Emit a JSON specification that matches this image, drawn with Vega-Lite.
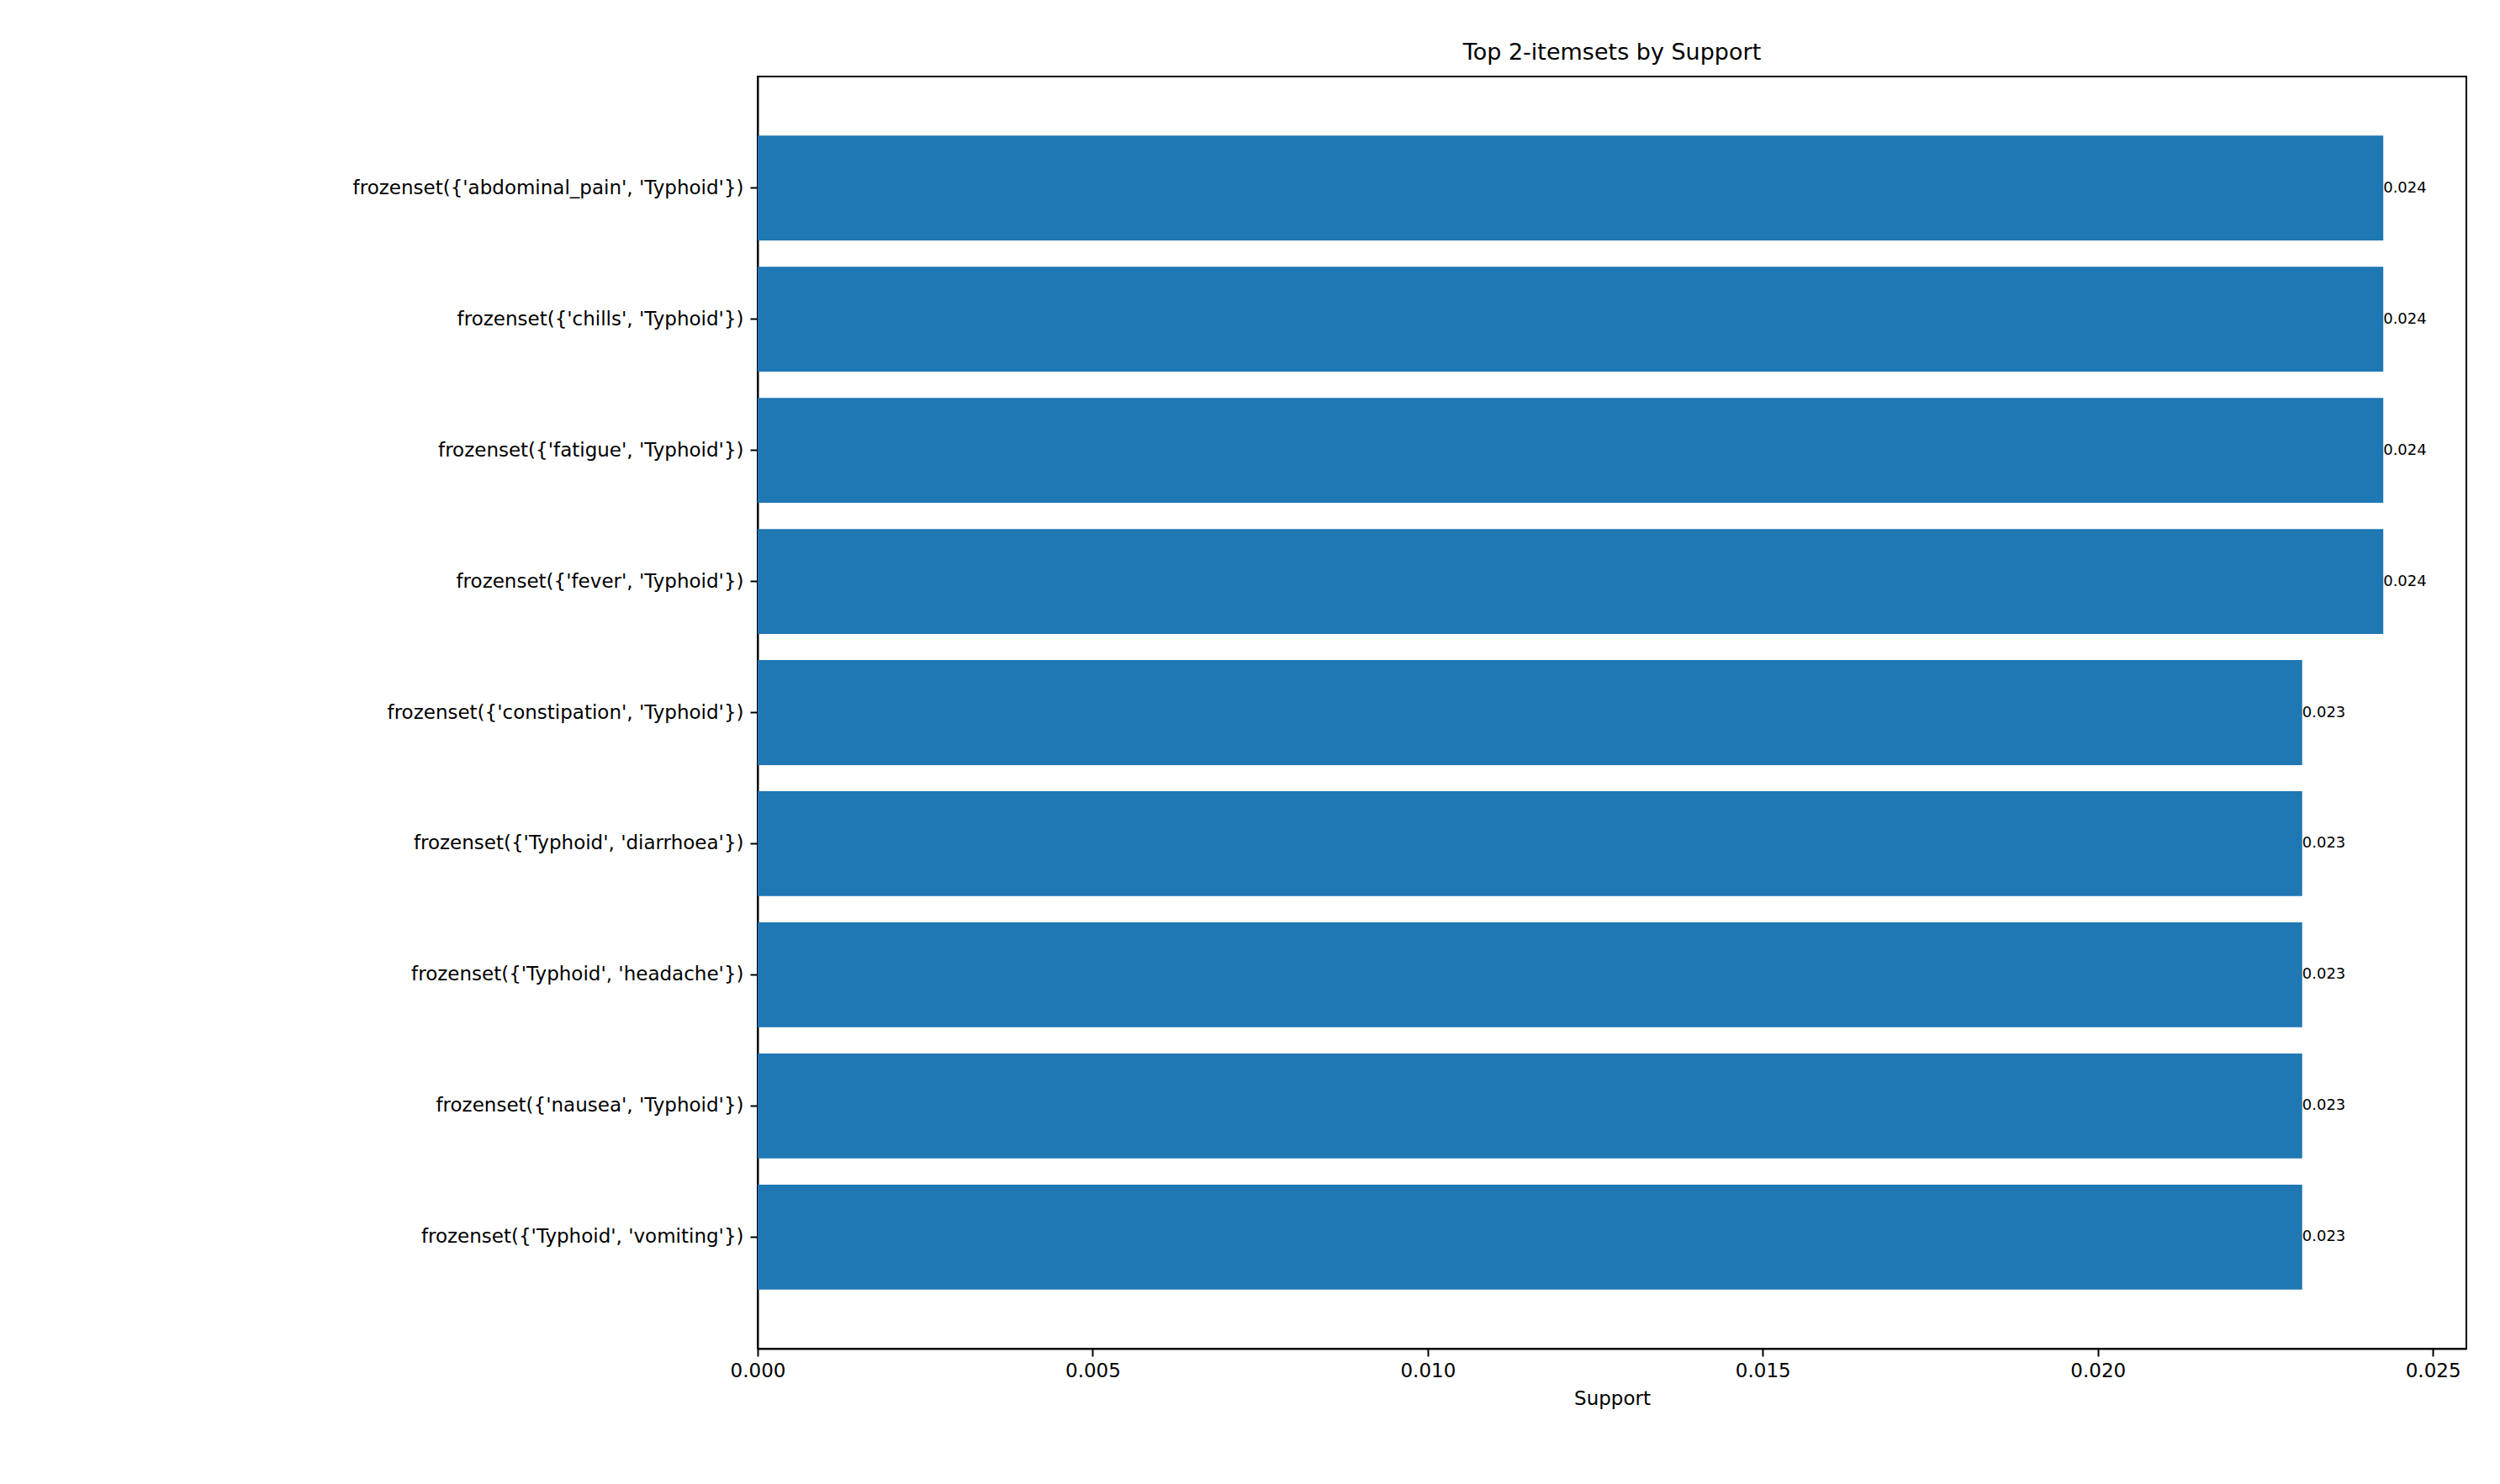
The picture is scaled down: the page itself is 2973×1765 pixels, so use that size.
{
  "$schema": "https://vega.github.io/schema/vega-lite/v6.json",
  "width": 2032,
  "height": 1513,
  "autosize": "none",
  "padding": {"left": 901, "top": 91, "right": 40, "bottom": 161},
  "background": "white",
  "config": {
    "font": "DejaVu Sans",
    "view": {"stroke": "black", "strokeWidth": 2}
  },
  "title": {"text": "Top 2-itemsets by Support", "fontSize": 27, "fontWeight": "normal", "offset": 14, "color": "black"},
  "data": {
    "values": [
      {"itemset": "frozenset({'abdominal_pain', 'Typhoid'})", "support": 0.02426, "rank": 1},
      {"itemset": "frozenset({'chills', 'Typhoid'})", "support": 0.02426, "rank": 2},
      {"itemset": "frozenset({'fatigue', 'Typhoid'})", "support": 0.02426, "rank": 3},
      {"itemset": "frozenset({'fever', 'Typhoid'})", "support": 0.02426, "rank": 4},
      {"itemset": "frozenset({'constipation', 'Typhoid'})", "support": 0.02305, "rank": 5},
      {"itemset": "frozenset({'Typhoid', 'diarrhoea'})", "support": 0.02305, "rank": 6},
      {"itemset": "frozenset({'Typhoid', 'headache'})", "support": 0.02305, "rank": 7},
      {"itemset": "frozenset({'nausea', 'Typhoid'})", "support": 0.02305, "rank": 8},
      {"itemset": "frozenset({'Typhoid', 'vomiting'})", "support": 0.02305, "rank": 9}
    ]
  },
  "encoding": {
    "y": {
      "field": "itemset",
      "type": "nominal",
      "sort": {"field": "rank", "order": "ascending"},
      "scale": {"paddingInner": 0.2, "paddingOuter": 0.45},
      "axis": {"title": null, "labelFontSize": 23, "labelColor": "black", "domainColor": "black", "domainWidth": 2, "tickColor": "black", "tickWidth": 2, "tickSize": 9, "labelPadding": 8, "labelLimit": 900}
    },
    "x": {
      "field": "support",
      "type": "quantitative",
      "scale": {"domain": [0, 0.0255], "nice": false, "zero": true},
      "axis": {"title": "Support", "titleFontSize": 23, "titleFontWeight": "normal", "titleColor": "black", "titlePadding": 10, "format": ".3f", "values": [0, 0.005, 0.01, 0.015, 0.02, 0.025], "labelFontSize": 23, "labelColor": "black", "grid": false, "domainColor": "black", "domainWidth": 2, "tickColor": "black", "tickWidth": 2, "tickSize": 9, "labelPadding": 6, "labelFlush": false}
    }
  },
  "layer": [
    {"mark": {"type": "bar", "color": "#1f77b4"}},
    {
      "mark": {"type": "text", "align": "left", "baseline": "middle", "fontSize": 18, "color": "black"},
      "encoding": {"text": {"field": "support", "type": "quantitative", "format": ".3f"}}
    }
  ]
}
